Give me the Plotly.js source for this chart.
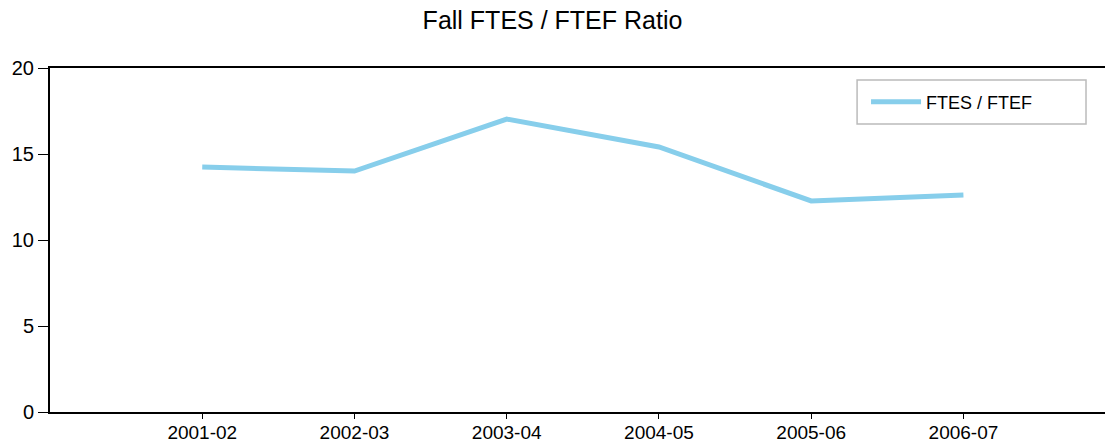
<!DOCTYPE html>
<html><head><meta charset="utf-8">
<script src="https://cdn.plot.ly/plotly-3.0.1.min.js"></script>
<style>html,body{margin:0;padding:0;background:#fff}#chart{width:1105px;height:445px}</style>
</head><body><div id="chart"></div>
<script>
var years = ["2001-02","2002-03","2003-04","2004-05","2005-06","2006-07"];
var ratio = [14.24, 14.01, 17.03, 15.41, 12.27, 12.62];
var seriesName = "FTES / FTEF";
var yTicks = [0,5,10,15,20];

Plotly.newPlot('chart', [{
  x: [0,1,2,3,4,5], y: ratio, type: 'scatter', mode: 'lines', name: seriesName,
  line: {color: '#87CEEB', width: 5}
}], {
  width: 1105, height: 445,
  margin: {l: 50, r: 0, t: 68, b: 33},
  paper_bgcolor: '#fff', plot_bgcolor: '#fff',
  font: {family: 'Liberation Sans, Arial, sans-serif', color: '#000', size: 20},
  title: {text: 'Fall FTES / FTEF Ratio', x: 0.5, xanchor: 'center', y: 0.955, yanchor: 'middle', font: {size: 25}},
  showlegend: true,
  legend: {x: 0.7735, xanchor: 'left', y: 0.901, yanchor: 'middle', font: {size: 18},
    borderwidth: 0, bgcolor: 'rgba(0,0,0,0)', itemwidth: 50},
  shapes: [{type: 'rect', xref: 'paper', yref: 'paper', x0: 0.765, x1: 0.982, y0: 0.837, y1: 0.965,
    line: {color: '#bbbbbb', width: 1.5}, fillcolor: '#ffffff', layer: 'below'}],
  xaxis: {range: [-1, 5.93], tickvals: [0,1,2,3,4,5], ticktext: years,
    showgrid: false, zeroline: false, showline: true, linecolor: '#000', linewidth: 2,
    mirror: true, ticks: 'outside', ticklen: 5, tickwidth: 1, tickcolor: '#000',
    ticklabelstandoff: -3, tickfont: {size: 19}, fixedrange: true},
  yaxis: {range: [0, 20], tickvals: yTicks, showgrid: false, zeroline: false,
    showline: true, linecolor: '#000', linewidth: 2, ticks: 'outside', ticklen: 10,
    tickwidth: 1, tickcolor: '#000', tickfont: {size: 20}, fixedrange: true}
}, {displayModeBar: false, staticPlot: true});
</script>
</body></html>
